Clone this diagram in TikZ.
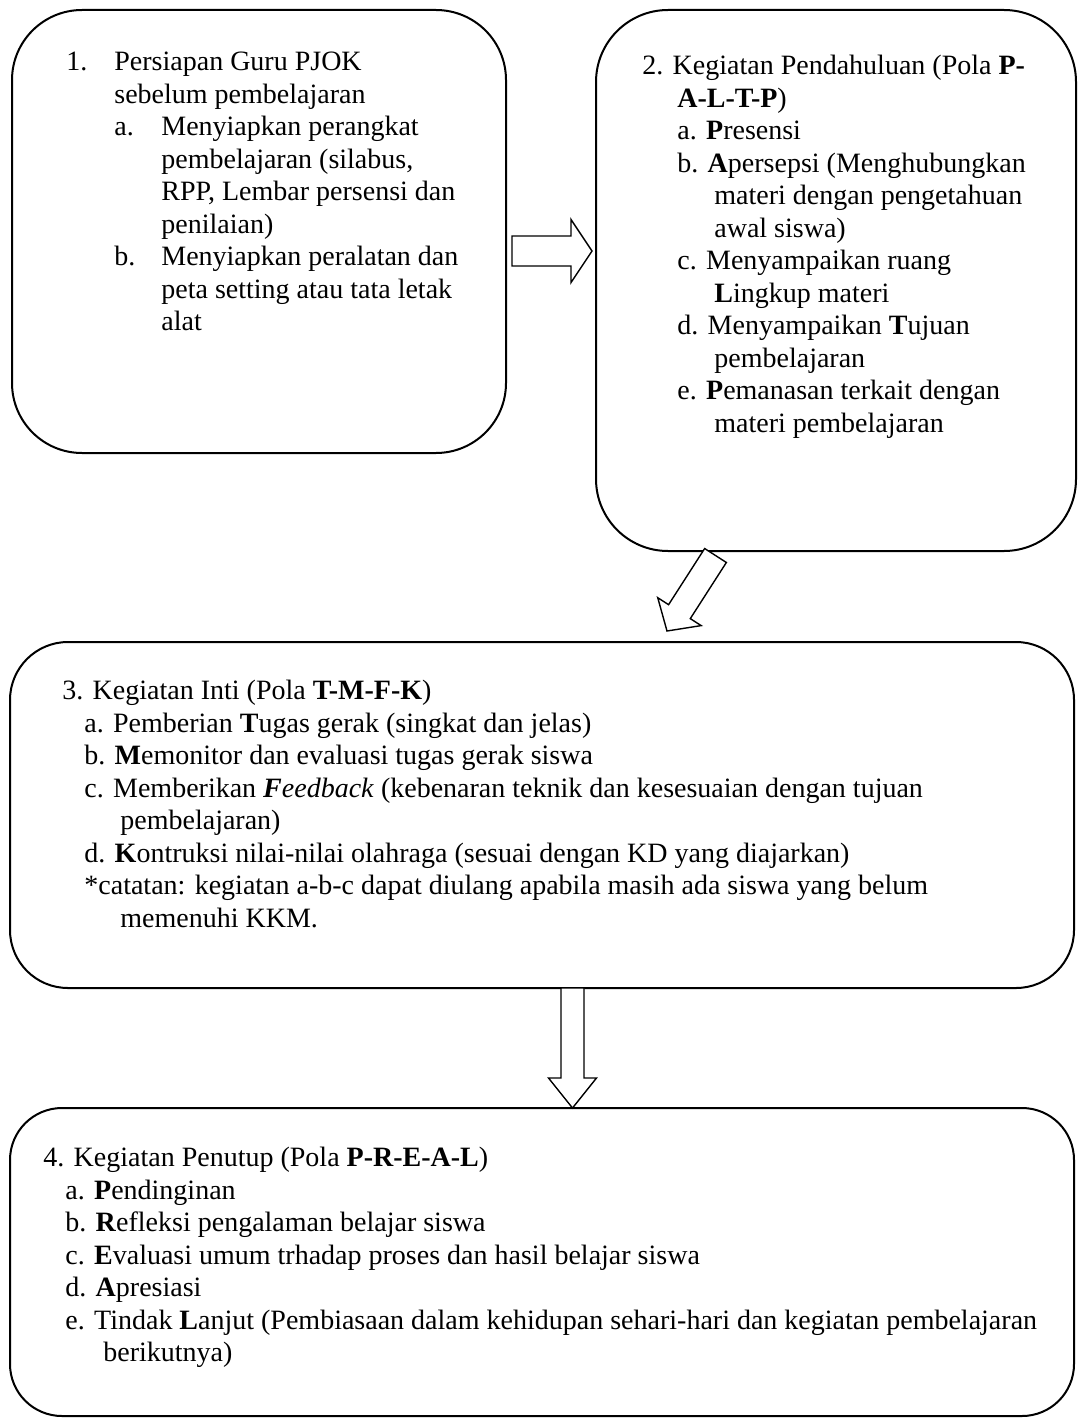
\documentclass[tikz,border=0pt]{standalone}
\usepackage{fontspec}
\setmainfont{Liberation Serif}
\usetikzlibrary{calc}

\newcommand{\lab}[2]{\makebox[#1][l]{#2}}

\begin{document}
\begin{tikzpicture}[
  x=0.5pt, y=-0.5pt,
  font=\fontsize{14}{16.25}\selectfont,
  box/.style={draw, line width=1pt, rounded corners=#1, inner sep=0pt},
  txt/.style={anchor=north west, inner sep=0pt, align=left},
  blk/.style={draw, line width=0.7pt, fill=white, line join=miter},
]
  \useasboundingbox (0,0) rectangle (1078,1418);

  \foreach \name/\x/\y/\w/\h/\r in {%
      b1/259/231.5/247/221.5/35, b2/836/280.5/240/270.5/36,
      b3/542/815/532/173/29, b4/542/1262/532/154/26}
    \node[box=\r pt, minimum width=\w pt, minimum height=\h pt] (\name) at (\x,\y) {};

  \node[txt] (t1) at (66,52) {%
    \lab{24pt}{1.}Persiapan Guru PJOK\\
    \hspace*{24pt}sebelum pembelajaran\\
    \hspace*{24pt}\lab{23.5pt}{a.}Menyiapkan perangkat\\
    \hspace*{47.5pt}pembelajaran (silabus,\\
    \hspace*{47.5pt}RPP, Lembar persensi dan\\
    \hspace*{47.5pt}penilaian)\\
    \hspace*{24pt}\lab{23.5pt}{b.}Menyiapkan peralatan dan\\
    \hspace*{47.5pt}peta setting atau tata letak\\
    \hspace*{47.5pt}alat};

  \node[txt] (t2) at (642,55) {%
    2. Kegiatan Pendahuluan (Pola \textbf{P-}\\
    \hspace*{17.5pt}\textbf{A-L-T-P})\\
    \hspace*{17.5pt}a. \textbf{P}resensi\\
    \hspace*{17.5pt}b. \textbf{A}persepsi (Menghubungkan\\
    \hspace*{36pt}materi dengan pengetahuan\\
    \hspace*{36pt}awal siswa)\\
    \hspace*{17.5pt}c. Menyampaikan ruang\\
    \hspace*{36pt}\textbf{L}ingkup materi\\
    \hspace*{17.5pt}d. Menyampaikan \textbf{T}ujuan\\
    \hspace*{36pt}pembelajaran\\
    \hspace*{17.5pt}e. \textbf{P}emanasan terkait dengan\\
    \hspace*{36pt}materi pembelajaran};

  \node[txt] (t3) at (62,680) {%
    3. Kegiatan Inti (Pola \textbf{T-M-F-K})\\
    \hspace*{11pt}a. Pemberian \textbf{T}ugas gerak (singkat dan jelas)\\
    \hspace*{11pt}b. \textbf{M}emonitor dan evaluasi tugas gerak siswa\\
    \hspace*{11pt}c. Memberikan \textbf{\textit{F}}\textit{eedback} (kebenaran teknik dan kesesuaian dengan tujuan\\
    \hspace*{29pt}pembelajaran)\\
    \hspace*{11pt}d. \textbf{K}ontruksi nilai-nilai olahraga (sesuai dengan KD yang diajarkan)\\
    \hspace*{11pt}*catatan: kegiatan a-b-c dapat diulang apabila masih ada siswa yang belum\\
    \hspace*{29pt}memenuhi KKM.};

  \node[txt] (t4) at (43,1147) {%
    4. Kegiatan Penutup (Pola \textbf{P-R-E-A-L})\\
    \hspace*{11pt}a. \textbf{P}endinginan\\
    \hspace*{11pt}b. \textbf{R}efleksi pengalaman belajar siswa\\
    \hspace*{11pt}c. \textbf{E}valuasi umum trhadap proses dan hasil belajar siswa\\
    \hspace*{11pt}d. \textbf{A}presiasi\\
    \hspace*{11pt}e. Tindak \textbf{L}anjut (Pembiasaan dalam kehidupan sehari-hari dan kegiatan pembelajaran\\
    \hspace*{30pt}berikutnya)};

  % block arrows: start, tip, half shaft, half head, head length
  \coordinate (r1) at (512,251);   \coordinate (r2) at (592,251);
  \coordinate (d1) at (715.5,555.5); \coordinate (d2) at (667,631);
  \coordinate (v1) at (572.5,988); \coordinate (v2) at (572.5,1108);

  \foreach \s/\e/\sw/\hw/\hl in {r1/r2/7.5/15.75/10.5, d1/d2/6.45/12.9/11.5, v1/v2/5.75/12/15} {
    \coordinate (h) at ($(\e)!\hl pt!(\s)$);
    \draw[blk] ($(\s)!\sw pt!90:(\e)$) -- ($(h)!\sw pt!-90:(\s)$) -- ($(h)!\hw pt!-90:(\s)$)
      -- (\e) -- ($(h)!\hw pt!90:(\s)$) -- ($(h)!\sw pt!90:(\s)$) -- ($(\s)!\sw pt!-90:(\e)$) -- cycle;
  }
\end{tikzpicture}
\end{document}
